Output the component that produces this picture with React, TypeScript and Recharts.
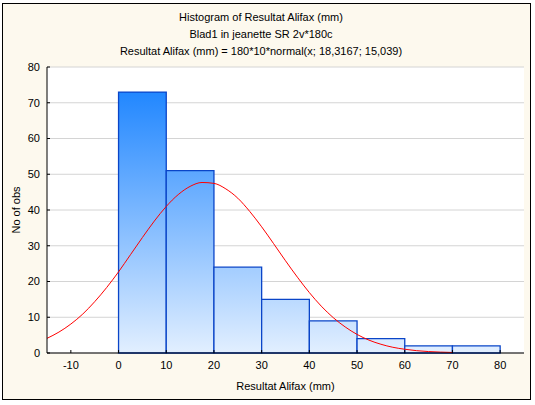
import {
  ComposedChart,
  Line,
  XAxis,
  YAxis,
  CartesianGrid,
  ReferenceArea,
} from "recharts";

// histogram bins (mm) and counts
const binStart = [0, 10, 20, 30, 40, 50, 60, 70];
const binEnd = [10, 20, 30, 40, 50, 60, 70, 80];
const counts = [73, 51, 24, 15, 9, 4, 2, 2];

// fitted normal curve
const curveX = [
  -15, -12.5, -10, -7.5, -5, -2.5, 0, 2.5, 5, 7.5, 10, 12.5, 15, 17.5, 20,
  22.5, 25, 27.5, 30, 32.5, 35, 37.5, 40, 42.5, 45, 47.5, 50, 52.5, 55, 57.5,
  60, 62.5, 65, 67.5, 70,
];
const curveY = [
  4.1, 5.85, 8.1, 10.9, 14.35, 18.3, 22.7, 27.5, 32.3, 36.9, 41.0, 44.3, 46.6,
  47.7, 47.45, 45.9, 43.3, 39.6, 35.3, 30.6, 25.8, 21.2, 16.9, 13.1, 9.9, 7.3,
  5.2, 3.6, 2.45, 1.6, 1.05, 0.65, 0.4, 0.25, 0.15,
];

const xTicks = [-10, 0, 10, 20, 30, 40, 50, 60, 70, 80];
const yTicks = [0, 10, 20, 30, 40, 50, 60, 70, 80];

const titleLines = [
  "Histogram of Resultat Alifax (mm)",
  "Blad1 in jeanette SR 2v*180c",
  "Resultat Alifax (mm) = 180*10*normal(x; 18,3167; 15,039)",
];

const curveData = curveX.map((x, i) => ({ x, y: curveY[i] }));

const FONT = "'Liberation Sans', Arial, sans-serif";
const tickStyle = { fontSize: 11, fill: "#000", fontFamily: FONT };

const App = () => {
  return (
    <div
      style={{
        position: "fixed",
        left: 0,
        top: 0,
        width: 535,
        height: 405,
        background: "#fff",
        fontFamily: FONT,
      }}
    >
      <div
        style={{
          position: "absolute",
          left: 2,
          top: 3,
          width: 529,
          height: 397,
          boxSizing: "border-box",
          border: "1px solid #000",
          background: "#fdf9ee",
        }}
      />
      {titleLines.map((t, i) => (
        <div
          key={i}
          style={{
            position: "absolute",
            left: 0,
            width: 522,
            top: 11 + i * 17,
            textAlign: "center",
            fontSize: 11,
            color: "#000",
          }}
        >
          {t}
        </div>
      ))}
      <div
        style={{
          position: "absolute",
          left: 47,
          width: 477,
          top: 380,
          textAlign: "center",
          fontSize: 11,
        }}
      >
        Resultat Alifax (mm)
      </div>
      <div
        style={{
          position: "absolute",
          left: 16,
          top: 210,
          fontSize: 11,
          whiteSpace: "nowrap",
          transform: "translate(-50%, -50%) rotate(-90deg)",
        }}
      >
        No of obs
      </div>
      <div style={{ position: "absolute", left: 0, top: 0 }}>
        <ComposedChart
          width={535}
          height={405}
          data={curveData}
          margin={{ top: 67, right: 11, bottom: 30, left: 7 }}
        >
          <defs>
            <linearGradient
              id="barFill"
              gradientUnits="userSpaceOnUse"
              x1="0"
              y1="67"
              x2="0"
              y2="353"
            >
              <stop offset="0%" stopColor="#0f7dff" />
              <stop offset="100%" stopColor="#e2efff" />
            </linearGradient>
          </defs>
          <CartesianGrid
            horizontal
            vertical={false}
            stroke="#d4d4d4"
            fill="#ffffff"
            fillOpacity={1}
          />
          <XAxis
            type="number"
            dataKey="x"
            domain={[-15, 85]}
            ticks={xTicks}
            allowDataOverflow
            height={22}
            tickSize={-3}
            tickMargin={11}
            axisLine={{ stroke: "#000" }}
            tickLine={{ stroke: "#000" }}
            tick={tickStyle}
          />
          <XAxis
            xAxisId="top"
            orientation="top"
            type="number"
            dataKey="x"
            domain={[-15, 85]}
            ticks={xTicks}
            allowDataOverflow
            height={0}
            tickSize={3}
            tick={false}
            axisLine={{ stroke: "#000" }}
            tickLine={{ stroke: "#000" }}
          />
          <YAxis
            type="number"
            domain={[0, 80]}
            ticks={yTicks}
            width={40}
            tickSize={-3}
            tickMargin={10}
            axisLine={{ stroke: "#000" }}
            tickLine={{ stroke: "#000" }}
            tick={tickStyle}
          />
          <YAxis
            yAxisId="right"
            orientation="right"
            type="number"
            domain={[0, 80]}
            ticks={yTicks}
            width={0}
            tickSize={3}
            mirror
            tick={false}
            axisLine={{ stroke: "#000" }}
            tickLine={{ stroke: "#000" }}
          />
          {counts.map((c, i) => (
            <ReferenceArea
              key={i}
              x1={binStart[i]}
              x2={binEnd[i]}
              y1={0}
              y2={c}
              fill="url(#barFill)"
              fillOpacity={1}
              stroke="#0a45c8"
              strokeWidth={1.3}
            />
          ))}
          <Line
            type="monotone"
            dataKey="y"
            stroke="#ff0000"
            strokeWidth={1}
            dot={false}
            isAnimationActive={false}
          />
        </ComposedChart>
      </div>
    </div>
  );
};

export default App;
